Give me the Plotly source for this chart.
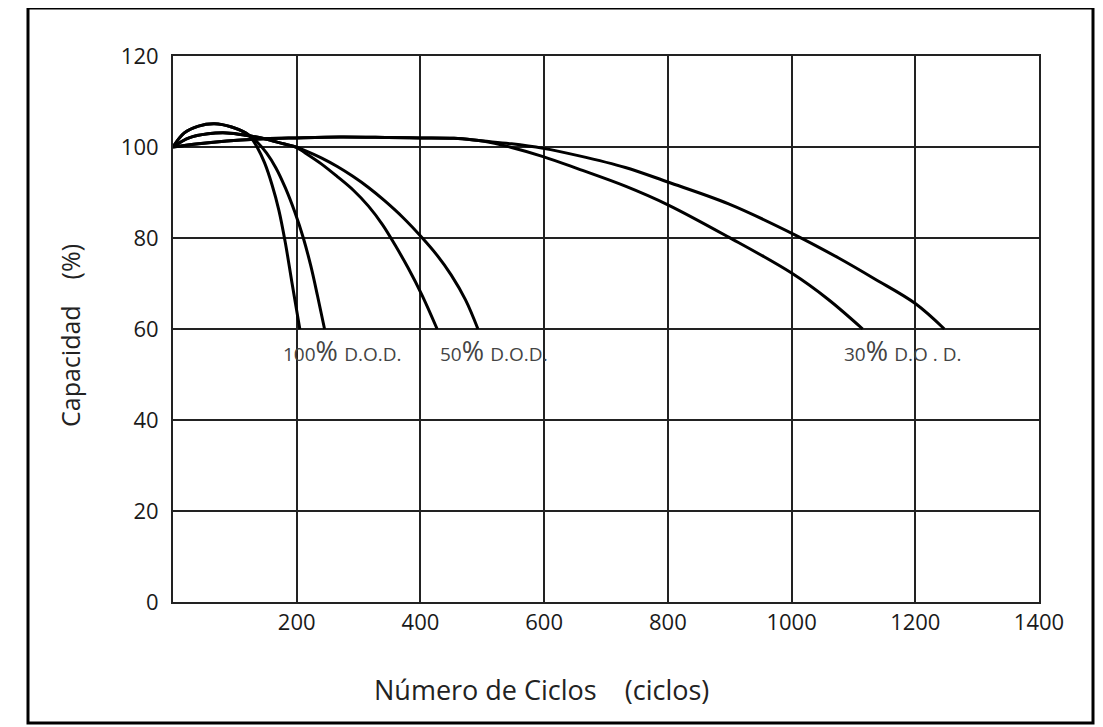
import plotly.graph_objects as go

# ---- data ----
dod100_a_x = [0, 18.3, 41.2, 67.2, 94.7, 117.6, 125.2, 135.9, 148.1, 160.3, 171.0, 181.7, 192.4, 205]
dod100_a_y = [100, 103.1, 104.6, 105.1, 104.4, 103.1, 102.2, 100, 96.5, 91.6, 86.2, 78.9, 70.1, 60]

dod100_b_x = [0, 18.3, 41.2, 67.2, 94.7, 117.6, 135.9, 151.1, 166.4, 181.7, 196.9, 210.7, 222.9, 233.6, 245]
dod100_b_y = [100, 103.1, 104.6, 105.1, 104.4, 103.1, 101.1, 98.7, 95.4, 91.0, 85.7, 80.0, 73.8, 67.3, 60]

dod50_a_x = [0, 26, 56.5, 87, 117.6, 148.1, 178.6, 198.5, 213.7, 239.7, 265.6, 291.6, 316.0, 338.9, 358.8, 380.2, 403.1, 427]
dod50_a_y = [100, 102, 102.9, 103.1, 102.6, 101.8, 100.7, 100, 98.7, 96.3, 93.5, 90.5, 87.0, 82.9, 78.5, 73.4, 67.3, 60]

dod50_b_x = [0, 26, 56.5, 87, 117.6, 148.1, 178.6, 198.5, 213.7, 239.7, 265.6, 290.1, 316.0, 342.0, 372.5, 403.1, 426.4, 449.6, 472.9, 493]
dod50_b_y = [100, 102, 102.9, 103.1, 102.6, 101.8, 100.7, 100, 99.2, 97.6, 95.7, 93.6, 91.1, 88.2, 84.4, 80.0, 76.3, 71.9, 66.4, 60]

dod30_a_x = [0, 41.2, 87, 148.1, 198.5, 270.2, 346.6, 400, 454.3, 500.8, 547.3, 598.4, 655, 731.3, 800, 898.2, 1000, 1058.4, 1115]
dod30_a_y = [100, 100.7, 101.3, 101.8, 102, 102.2, 102.1, 102, 101.9, 101.3, 99.9, 97.9, 95.2, 91.4, 87.3, 80.2, 72.3, 66.6, 60]

dod30_b_x = [0, 41.2, 87, 148.1, 198.5, 270.2, 346.6, 400, 454.3, 500.8, 547.3, 598.4, 655, 731.3, 800, 898.2, 1005.3, 1076.1, 1134.5, 1200, 1247]
dod30_b_y = [100, 100.7, 101.3, 101.8, 102, 102.2, 102.1, 102, 101.9, 101.3, 100.7, 99.7, 98.1, 95.5, 92.3, 87.5, 80.7, 75.6, 71.0, 65.6, 60]

x_ticks = [200, 400, 600, 800, 1000, 1200, 1400]
x_tick_labels = ["200", "400", "600", "800", "1000", "1200", "1400"]
y_ticks = [0, 20, 40, 60, 80, 100, 120]

label_pct = ["100", "50", "30"]
label_dod = ["D.O.D.", "D.O.D.", "D.O . D."]
label_x = [174, 428, 1081]
label_y = 60

FONT = "Open Sans"

fig = go.Figure()
for xs, ys in [(dod100_a_x, dod100_a_y), (dod100_b_x, dod100_b_y),
               (dod50_a_x, dod50_a_y), (dod50_b_x, dod50_b_y),
               (dod30_a_x, dod30_a_y), (dod30_b_x, dod30_b_y)]:
    fig.add_trace(go.Scatter(x=xs, y=ys, mode="lines",
                             line=dict(color="black", width=3, shape="spline", smoothing=1.0),
                             showlegend=False, hoverinfo="skip"))

annotations = []
for p, d, lx in zip(label_pct, label_dod, label_x):
    annotations.append(dict(
        x=lx, y=label_y, xref="x", yref="y", xanchor="left", yanchor="top",
        yshift=-1, showarrow=False,
        text=f"<span style='font-size:19px'>{p}</span><span style='font-size:27px'>%</span>"
             f"\u00a0\u00a0<span style='font-size:19px'>{d}</span>",
        font=dict(family=FONT, color="#444444")))

annotations.append(dict(
    x=0.426, y=-0.161, xref="paper", yref="paper", xanchor="center", yanchor="middle",
    showarrow=False,
    text="Número de Ciclos\u00a0\u00a0\u00a0\u00a0(ciclos)",
    font=dict(family=FONT, size=27, color="#222222")))
annotations.append(dict(
    x=-0.119, y=0.489, xref="paper", yref="paper", xanchor="center", yanchor="middle",
    showarrow=False, textangle=-90,
    text="Capacidad\u00a0\u00a0\u00a0\u00a0(%)",
    font=dict(family=FONT, size=25, color="#222222")))

# the page adds an 8px body margin, so the figure is 8px smaller than the window
fig.update_layout(
    width=1095, height=719,
    margin=dict(l=165, r=64, t=48, b=125),
    paper_bgcolor="white", plot_bgcolor="white",
    annotations=annotations,
    shapes=[dict(type="rect", xref="paper", yref="paper",
                 x0=(28 - 173) / 866, x1=(1093 - 173) / 866,
                 y0=(602 - 723) / 546, y1=(602 - 8) / 546,
                 line=dict(color="black", width=3))],
)
fig.update_xaxes(range=[0, 1400], tickvals=x_ticks, ticktext=x_tick_labels,
                 showgrid=True, gridcolor="#222222", gridwidth=2,
                 showline=True, linecolor="#222222", linewidth=2, mirror=True,
                 ticks="", zeroline=False, ticklabelstandoff=0,
                 tickfont=dict(family=FONT, size=22, color="#1a1a1a"))
fig.update_yaxes(range=[0, 120], tickvals=y_ticks,
                 showgrid=True, gridcolor="#222222", gridwidth=2,
                 showline=True, linecolor="#222222", linewidth=2, mirror=True,
                 ticks="", zeroline=False, ticklabelstandoff=8,
                 tickfont=dict(family=FONT, size=22, color="#1a1a1a"))

fig.write_html("out.html")
